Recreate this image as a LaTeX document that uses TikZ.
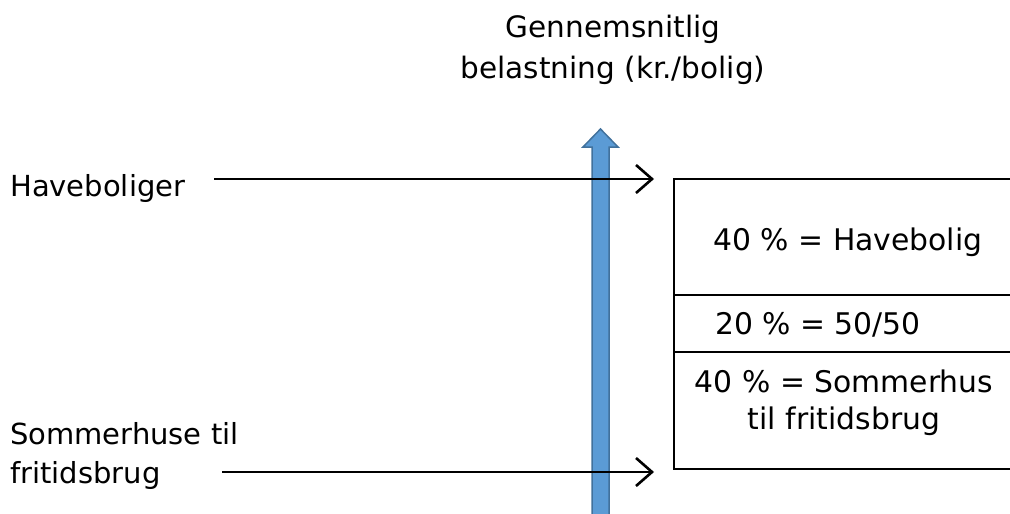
\documentclass[tikz,border=0pt]{standalone}
\usepackage{fontspec}
\setmainfont{DejaVu Sans}
\usetikzlibrary{arrows.meta}
\begin{document}
\begin{tikzpicture}[x=1pt,y=-1pt,
  lbl/.style={font=\fontsize{29}{34}\selectfont, inner sep=0pt},
  ttl/.style={font=\fontsize{29.5}{34}\selectfont, inner sep=0pt},
  boxtxt/.style={font=\fontsize{29.8}{34}\selectfont, inner sep=0pt},
  conn/.style={line width=2.6pt, -{Straight Barb[length=16pt,width=28pt,line width=2.6pt]}},
  boxline/.style={line width=2pt}]
\useasboundingbox (0,0) rectangle (1010,514);
% blue axis arrow
\begin{scope}
\clip (0,0) rectangle (1010,514);
\filldraw[fill={rgb,255:red,91;green,155;blue,213}, draw={rgb,255:red,65;green,113;blue,156}, line width=1.5pt]
  (592,530) -- (592,147) -- (583,147) -- (600.5,129) -- (618,147) -- (609,147) -- (609,530) -- cycle;
\end{scope}
% title
\node[ttl, anchor=base] (t1) at (613,37) {Gennemsnitlig};
\node[ttl, anchor=base] (t2) at (613,78) {belastning (kr./bolig)};
% left labels
\node[lbl, anchor=base west] (hb) at (10,196) {Haveboliger};
\node[lbl, anchor=base west] (sh1) at (10,444) {Sommerhuse til};
\node[lbl, anchor=base west] (sh2) at (10,483) {fritidsbrug};
% arrow endpoints
\coordinate (a1s) at (214,179);
\coordinate (a1e) at (654,179);
\coordinate (a2s) at (222,472);
\coordinate (a2e) at (654,472);
\draw[conn] (a1s) -- (a1e);
\draw[conn] (a2s) -- (a2e);
% box
\coordinate (bTL) at (674,179);
\coordinate (bTR) at (1012,179);
\coordinate (bBL) at (674,469);
\coordinate (bBR) at (1012,469);
\draw[boxline] (bTR) -- (bTL) -- (bBL) -- (bBR);
\draw[boxline] (674,295) -- (1012,295);
\draw[boxline] (674,352) -- (1012,352);
\node[boxtxt, anchor=base] (r1) at (848,250) {40 \% = Havebolig};
\node[boxtxt, anchor=base west] (r2) at (715,334) {20 \% = 50/50};
\node[boxtxt, anchor=base] (r3a) at (844,392) {40 \% = Sommerhus};
\node[boxtxt, anchor=base] (r3b) at (844,429) {til fritidsbrug};
\end{tikzpicture}
\end{document}
